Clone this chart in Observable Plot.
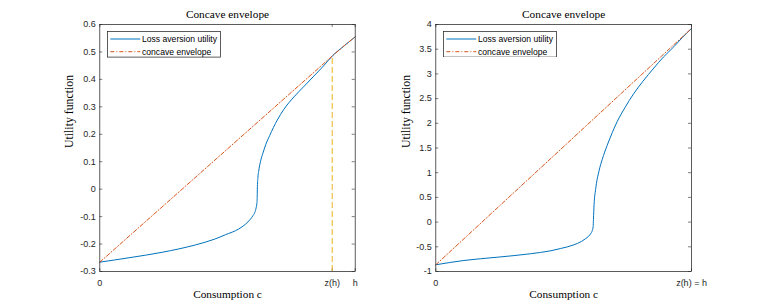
<!DOCTYPE html>
<html><head><meta charset="utf-8">
<script src="https://cdn.jsdelivr.net/npm/d3@7"></script>
<script src="https://cdn.jsdelivr.net/npm/@observablehq/plot@0.6"></script>
<style>
body{margin:0;background:#fff;}
#wrap{position:relative;width:764px;height:305px;overflow:hidden;background:#fff;}
.panel{position:absolute;top:0;}
.legend{position:absolute;}
</style></head><body><div id="wrap"></div>
<script>
// ---- data ----
const titles = ["Concave envelope", "Concave envelope"];
const xLabel = "Consumption c";
const yLabel = "Utility function";
const seriesNames = ["Loss aversion utility", "concave envelope"];

// left panel (x: 0 .. h = 1)
const cL = [0, 0.114, 0.244, 0.375, 0.45, 0.492, 0.544, 0.57, 0.59, 0.60, 0.607, 0.612, 0.615, 0.6163, 0.6168, 0.619, 0.622, 0.629, 0.64, 0.65, 0.665, 0.68, 0.695, 0.72, 0.76, 0.80, 0.838, 0.876, 0.91, 0.955, 1];
const uL = [-0.266, -0.250, -0.230, -0.203, -0.182, -0.166, -0.145, -0.128, -0.109, -0.096, -0.085, -0.068, -0.052, -0.03, 0.0, 0.042, 0.065, 0.100, 0.135, 0.163, 0.195, 0.225, 0.252, 0.29, 0.336, 0.375, 0.412, 0.449, 0.485, 0.521, 0.555];
const envCL = [0, 0.91, 0.955, 1];
const envUL = [-0.266, 0.485, 0.521, 0.555];
const zhL = 0.91, uzhL = 0.485;
const yTicksL = [-0.3, -0.2, -0.1, 0, 0.1, 0.2, 0.3, 0.4, 0.5, 0.6];
const xTicksL = [0, 0.91, 1];
const xTickLabelsL = ["0", "z(h)", "h"];

// right panel (x: 0 .. z(h) = h = 1)
const cR = [0, 0.110, 0.240, 0.370, 0.45, 0.488, 0.540, 0.57, 0.585, 0.598, 0.607, 0.612, 0.6155, 0.6165, 0.619, 0.625, 0.638, 0.651, 0.670, 0.69, 0.709, 0.74, 0.774, 0.81, 0.853, 0.89, 0.931, 0.965, 1];
const uR = [-0.864, -0.777, -0.711, -0.641, -0.58, -0.535, -0.46, -0.39, -0.338, -0.285, -0.225, -0.17, -0.09, 0.05, 0.35, 0.66, 1.03, 1.27, 1.55, 1.81, 2.03, 2.32, 2.60, 2.85, 3.12, 3.34, 3.55, 3.74, 3.92];
const envCR = [0, 1];
const envUR = [-0.864, 3.92];
const yTicksR = [-1, -0.5, 0, 0.5, 1, 1.5, 2, 2.5, 3, 3.5, 4];
const xTicksR = [0, 1];
const xTickLabelsR = ["0", "z(h) = h"];

// ---- styling ----
const BLUE = "#0072BD", ORANGE = "#D95319", YELLOW = "#EDB120", AX = "#262626";
const SANS = "'Liberation Sans', Arial, Helvetica, sans-serif";
const SERIF = "'Liberation Serif', 'Times New Roman', serif";
const H = 305, MT = 24, MB = 34;

function panel(o) {
  const fw = o.width - o.ml - o.mr, fh = H - MT - MB;
  const data = o.c.map((c, i) => ({c, u: o.u[i]}));
  const env = o.ec.map((c, i) => ({c, u: o.eu[i]}));
  const marks = [
    Plot.tickY(o.yTicks, {y: d => d, stroke: AX, strokeWidth: 0.6, insetRight: fw - 3}),
    Plot.tickY(o.yTicks, {y: d => d, stroke: AX, strokeWidth: 0.6, insetLeft: fw - 3}),
    Plot.tickX(o.xTicks, {x: d => d, stroke: AX, strokeWidth: 0.6, insetTop: fh - 3}),
    Plot.tickX(o.xTicks, {x: d => d, stroke: AX, strokeWidth: 0.6, insetBottom: fh - 3}),
    Plot.axisY({ticks: o.yTicks, tickSize: 0, tickPadding: 4, fontSize: 9, fontFamily: SANS, fill: AX, tickFormat: d => String(d), label: null}),
    Plot.axisX({ticks: o.xTicks, tickSize: 0, tickPadding: 8, fontSize: 9, fontFamily: SANS, fill: AX, tickFormat: d => o.xLabels[o.xTicks.indexOf(d)], label: null}),
  ];
  if (o.zh != null) marks.push(Plot.ruleX([o.zh], {x: d => d, y1: o.yDomain[0], y2: o.uzh, stroke: YELLOW, strokeWidth: 1, strokeDasharray: "6,3"}));
  marks.push(
    Plot.line(data, {x: "c", y: "u", stroke: BLUE, strokeWidth: 1, curve: "monotone-x"}),
    Plot.line(env, {x: "c", y: "u", stroke: ORANGE, strokeWidth: 1, strokeDasharray: "4,2,1,2"}),
    Plot.frame({stroke: AX, strokeWidth: 0.75}),
    Plot.text([o.title], {text: d => d, frameAnchor: "top", lineAnchor: "bottom", dy: -6.5, fontFamily: SERIF, fontSize: 11.3, fill: "#000"}),
    Plot.text([xLabel], {text: d => d, frameAnchor: "bottom", lineAnchor: "bottom", dy: 26, fontFamily: SERIF, fontSize: 11.3, fill: "#000"}),
    Plot.text([yLabel], {text: d => d, frameAnchor: "left", lineAnchor: "middle", rotate: -90, dx: o.ylabDx, fontFamily: SERIF, fontSize: 11.8, fill: "#000"})
  );
  const p = Plot.plot({
    width: o.width, height: H,
    marginLeft: o.ml, marginRight: o.mr, marginTop: MT, marginBottom: MB,
    x: {domain: [0, 1], axis: null},
    y: {domain: o.yDomain, axis: null},
    style: {background: "#fff", overflow: "visible"},
    marks
  });
  p.classList.add("panel");
  p.style.left = o.left + "px";
  return p;
}

function legend(left, top) {
  const w = 114, h = 26.5;
  const ns = "http://www.w3.org/2000/svg";
  const svg = document.createElementNS(ns, "svg");
  svg.setAttribute("width", w); svg.setAttribute("height", h);
  svg.setAttribute("class", "legend");
  svg.style.left = left + "px"; svg.style.top = top + "px";
  const rows = [
    {name: seriesNames[0], color: BLUE, dash: null, y: 8},
    {name: seriesNames[1], color: ORANGE, dash: "4,2,1,2", y: 20.7}
  ];
  let html = `<rect x="0.4" y="0.4" width="${w - 0.8}" height="${h - 0.8}" fill="#fff" stroke="${AX}" stroke-width="0.75"/>`;
  for (const r of rows) {
    html += `<line x1="3.3" x2="33.3" y1="${r.y}" y2="${r.y}" stroke="${r.color}" stroke-width="1" ${r.dash ? `stroke-dasharray="${r.dash}"` : ""}/>`;
    html += `<text x="35" y="${r.y}" dy="0.33em" font-family="${SANS.replace(/'/g, "")}" font-size="8.6" fill="#000">${r.name}</text>`;
  }
  svg.innerHTML = html;
  return svg;
}

const wrap = document.getElementById("wrap");
wrap.appendChild(panel({left: 0, width: 382, ml: 99.3, mr: 27.3, c: cL, u: uL, ec: envCL, eu: envUL,
  zh: zhL, uzh: uzhL, yDomain: [-0.3, 0.6], yTicks: yTicksL, xTicks: xTicksL, xLabels: xTickLabelsL, title: titles[0], ylabDx: -30.3}));
wrap.appendChild(panel({left: 382, width: 382, ml: 53.3, mr: 73, c: cR, u: uR, ec: envCR, eu: envUR,
  zh: null, yDomain: [-1, 4], yTicks: yTicksR, xTicks: xTicksR, xLabels: xTickLabelsR, title: titles[1], ylabDx: -29.3}));
wrap.appendChild(legend(106.7, 31));
wrap.appendChild(legend(443.3, 30.7));
</script></body></html>
